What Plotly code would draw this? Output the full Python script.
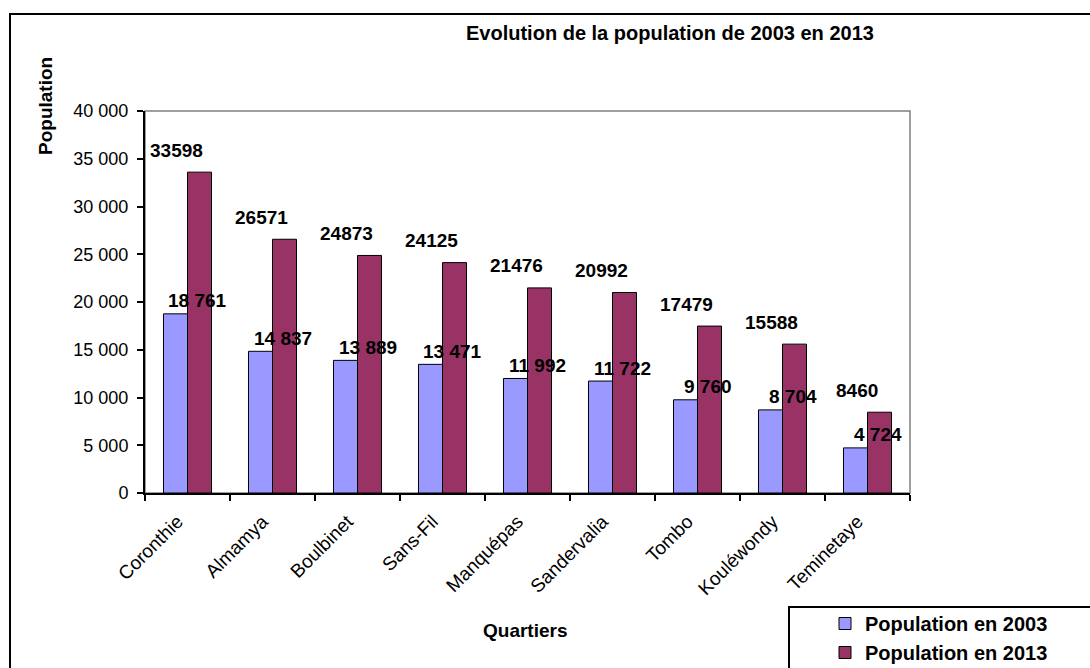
import plotly.graph_objects as go

quartiers = ["Coronthie", "Almamya", "Boulbinet", "Sans-Fil", "Manquépas",
             "Sandervalia", "Tombo", "Kouléwondy", "Teminetaye"]
pop_2003 = [18761, 14837, 13889, 13471, 11992, 11722, 9760, 8704, 4724]
pop_2013 = [33598, 26571, 24873, 24125, 21476, 20992, 17479, 15588, 8460]
labels_2003 = ["18 761", "14 837", "13 889", "13 471", "11 992", "11 722", "9 760", "8 704", "4 724"]
labels_2013 = [str(v) for v in pop_2013]
y_ticks = [0, 5000, 10000, 15000, 20000, 25000, 30000, 35000, 40000]

FONT = "Liberation Sans, Arial, sans-serif"
W, H = 1090, 668
L, R, T, B = 145, 910, 111, 493

def px(x):
    return (x - L) / (R - L)

def py(y):
    return (B - y) / (B - T)

fig = go.Figure()
fig.add_trace(go.Bar(x=quartiers, y=pop_2003, name="Population en 2003",
                     marker=dict(color="#9999FF", line=dict(color="black", width=1))))
fig.add_trace(go.Bar(x=quartiers, y=pop_2013, name="Population en 2013",
                     marker=dict(color="#993366", line=dict(color="black", width=1))))

ann = []
for q, v, t in zip(quartiers, pop_2003, labels_2003):
    ann.append(dict(x=q, y=v, xref="x", yref="y", text=t, showarrow=False,
                    xshift=10, yshift=13, yanchor="middle", xanchor="center",
                    font=dict(family=FONT, size=19, color="black", weight="bold")))
for q, v, t in zip(quartiers, pop_2013, labels_2013):
    ann.append(dict(x=q, y=v, xref="x", yref="y", text=t, showarrow=False,
                    xshift=-11, yshift=22, yanchor="middle", xanchor="center",
                    font=dict(family=FONT, size=19, color="black", weight="bold")))

ann.append(dict(x=px(670), y=py(33), xref="paper", yref="paper",
                text="<b>Evolution de la population de 2003 en 2013</b>", showarrow=False,
                xanchor="center", yanchor="middle",
                font=dict(family=FONT, size=20, color="black")))
ann.append(dict(x=px(45), y=py(106), xref="paper", yref="paper",
                text="<b>Population</b>", showarrow=False, textangle=-90,
                xanchor="center", yanchor="middle",
                font=dict(family=FONT, size=19, color="black")))
ann.append(dict(x=px(525), y=py(630), xref="paper", yref="paper",
                text="<b>Quartiers</b>", showarrow=False,
                xanchor="center", yanchor="middle",
                font=dict(family=FONT, size=19, color="black")))

shapes = [
    dict(type="rect", xref="paper", yref="paper", x0=0, y0=0, x1=1, y1=1,
         line=dict(color="#808080", width=1.5), layer="below"),
    dict(type="rect", xref="paper", yref="paper", x0=px(10), y0=py(14),
         x1=px(1110), y1=py(700), line=dict(color="black", width=2)),
    dict(type="rect", xref="paper", yref="paper", x0=px(789), y0=py(607),
         x1=px(1110), y1=py(700), line=dict(color="black", width=2)),
]

fig.update_layout(
    width=W, height=H,
    margin=dict(l=L, r=W - R, t=T, b=H - B, autoexpand=False),
    paper_bgcolor="white", plot_bgcolor="white",
    barmode="group", bargap=0.435, bargroupgap=0,
    separators=", ",
    font=dict(family=FONT, size=18, color="black"),
    showlegend=True,
    legend=dict(x=px(825), y=py(604), xanchor="left", yanchor="top",
                bgcolor="rgba(0,0,0,0)", tracegroupgap=0,
                font=dict(family=FONT, size=20, color="black", weight="bold")),
    annotations=ann,
    shapes=shapes,
)
fig.update_xaxes(showline=True, linecolor="black", linewidth=2, automargin=False,
                 ticks="outside", ticklen=6, tickwidth=2, tickcolor="black",
                 tickson="boundaries", tickangle=-45, showgrid=False,
                 ticklabelstandoff=8, ticklabelshift=-10,
                 tickfont=dict(family=FONT, size=19, color="black"))
fig.update_yaxes(range=[0, 40000], tickvals=y_ticks, tickformat=",d", automargin=False,
                 showline=True, linecolor="black", linewidth=2,
                 ticks="outside", ticklen=6, tickwidth=2, tickcolor="black",
                 showgrid=False, zeroline=False, ticklabelstandoff=5,
                 tickfont=dict(family=FONT, size=18, color="black"))

fig.write_html("out.html")
